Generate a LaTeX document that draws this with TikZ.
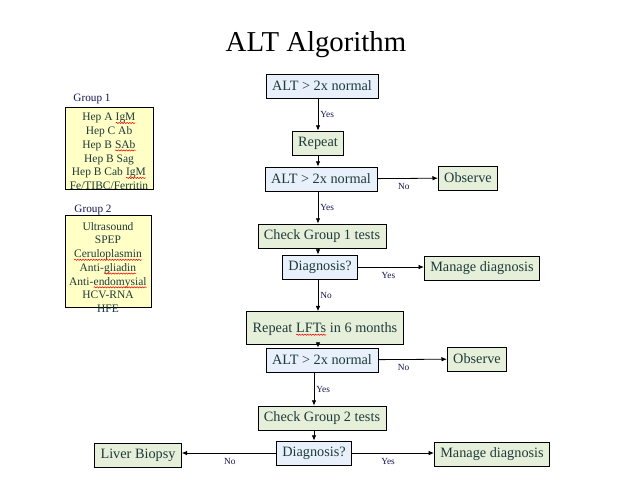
\documentclass[tikz,border=0pt]{standalone}
\usepackage{fontspec}
\setmainfont{Liberation Serif}
\usetikzlibrary{arrows.meta,decorations.pathmorphing}
\definecolor{askfill}{RGB}{232,241,251}
\definecolor{actfill}{RGB}{230,239,217}
\definecolor{grpfill}{RGB}{255,255,198}
\definecolor{boxtext}{RGB}{30,58,58}
\definecolor{lbltext}{RGB}{20,20,80}
\newcommand\spellerr[1]{\tikz[baseline=(w.base),x=1pt,y=1pt]{%
    \node[inner sep=0pt,outer sep=0pt] (w) {#1};
    \draw[red, line width=0.4pt, decorate, decoration={snake, amplitude=0.45pt, segment length=2pt}]
        ([yshift=-1.6pt]w.base west) -- ([yshift=-1.6pt]w.base east);}}
\begin{document}
\begin{tikzpicture}[x=0.75pt,y=-0.75pt,
    box/.style={draw, line width=0.6pt, inner xsep=4.5pt, minimum height=18pt,
        text=boxtext, font=\fontsize{10.7}{12}\selectfont},
    ask/.style={box, fill=askfill},
    act/.style={box, fill=actfill},
    grp/.style={draw, line width=0.6pt, fill=grpfill},
    grptxt/.style={anchor=north, inner sep=0pt, align=center, text=boxtext,
        font=\fontsize{8.6}{10.3}\selectfont},
    grplbl/.style={text=lbltext, font=\fontsize{8.4}{10}\selectfont},
    lbl/.style={text=lbltext, inner sep=1.5pt, font=\fontsize{7}{8}\selectfont},
    lblb/.style={lbl, below, inner sep=3.5pt},
    arr/.style={-{Latex[length=4pt,width=3.5pt]}, line width=0.6pt}]

    \useasboundingbox (0,0) rectangle (640,480);

    \node[font=\fontsize{21.6}{26}\selectfont] (title) at (316,45) {ALT Algorithm};

    \node[grplbl] (g1lbl) at (92,99) {Group 1};
    \node[grp, minimum width=66pt, minimum height=61.5pt] (g1box) at (109,148) {};
    \node[grptxt] (g1txt) at (109,113) {Hep A \spellerr{IgM}\\Hep C Ab\\Hep B \spellerr{SAb}\\
        Hep B Sag\\Hep B Cab \spellerr{IgM}\\Fe/TIBC/Ferritin};

    \node[grplbl] (g2lbl) at (93,210) {Group 2};
    \node[grp, minimum width=64.5pt, minimum height=69pt] (g2box) at (108,261) {};
    \node[grptxt] (g2txt) at (108,222) {Ultrasound\\SPEP\\\spellerr{Ceruloplasmin}\\
        Anti-\spellerr{gliadin}\\Anti-\spellerr{endomysial}\\HCV-RNA\\HFE};

    \node[ask] (alta) at (322,86) {ALT > 2x normal};
    \node[act] (rep) at (318,143) {Repeat};
    \node[ask] (altb) at (321,179) {ALT > 2x normal};
    \node[act] (obsa) at (468,178) {Observe};
    \node[act] (chka) at (322,236) {Check Group 1 tests};
    \node[ask] (diaga) at (320,267) {Diagnosis?};
    \node[act] (mana) at (482,268) {Manage diagnosis};
    \node[act] (lft) at (325,328) {Repeat \spellerr{LFTs} in 6 months};
    \node[ask] (altc) at (322,360) {ALT > 2x normal};
    \node[act] (obsb) at (477,359) {Observe};
    \node[act] (chkb) at (322,418) {Check Group 2 tests};
    \node[ask] (diagb) at (314,453) {Diagnosis?};
    \node[act] (biopsy) at (138,455) {Liver Biopsy};
    \node[act] (manb) at (492,454) {Manage diagnosis};

    \draw[arr] (alta.south -| rep) -- (rep.north) node[lbl, midway, right] (y1) {Yes};
    \draw[arr] (rep) -- (rep |- altb.north);
    \draw[arr] (altb) -- (obsa) node[lblb, pos=0.44] (n1) {No};
    \draw[arr] (altb.south -| rep) -- (rep |- chka.north) node[lbl, midway, right] (y2) {Yes};
    \draw[arr] (chka.south -| rep) -- (rep |- diaga.north);
    \draw[arr] (diaga) -- (diaga -| mana.west) node[lblb, pos=0.46] (y3) {Yes};
    \draw[arr] (diaga.south -| rep) -- (rep |- lft.north) node[lbl, midway, right] (n2) {No};
    \draw[arr] (lft.south -| rep) -- (rep |- altc.north);
    \draw[arr] (altc) -- (obsb) node[lblb, pos=0.37] (n3) {No};
    \draw[arr] (altc.south -| diagb) -- (diagb |- chkb.north) node[lbl, midway, right] (y4) {Yes};
    \draw[arr] (chkb.south -| diagb) -- (diagb.north);
    \draw[arr] (diagb) -- (diagb -| biopsy.east) node[lblb, pos=0.49] (n4) {No};
    \draw[arr] (diagb) -- (diagb -| manb.west) node[lblb, pos=0.44] (y5) {Yes};
\end{tikzpicture}
\end{document}
